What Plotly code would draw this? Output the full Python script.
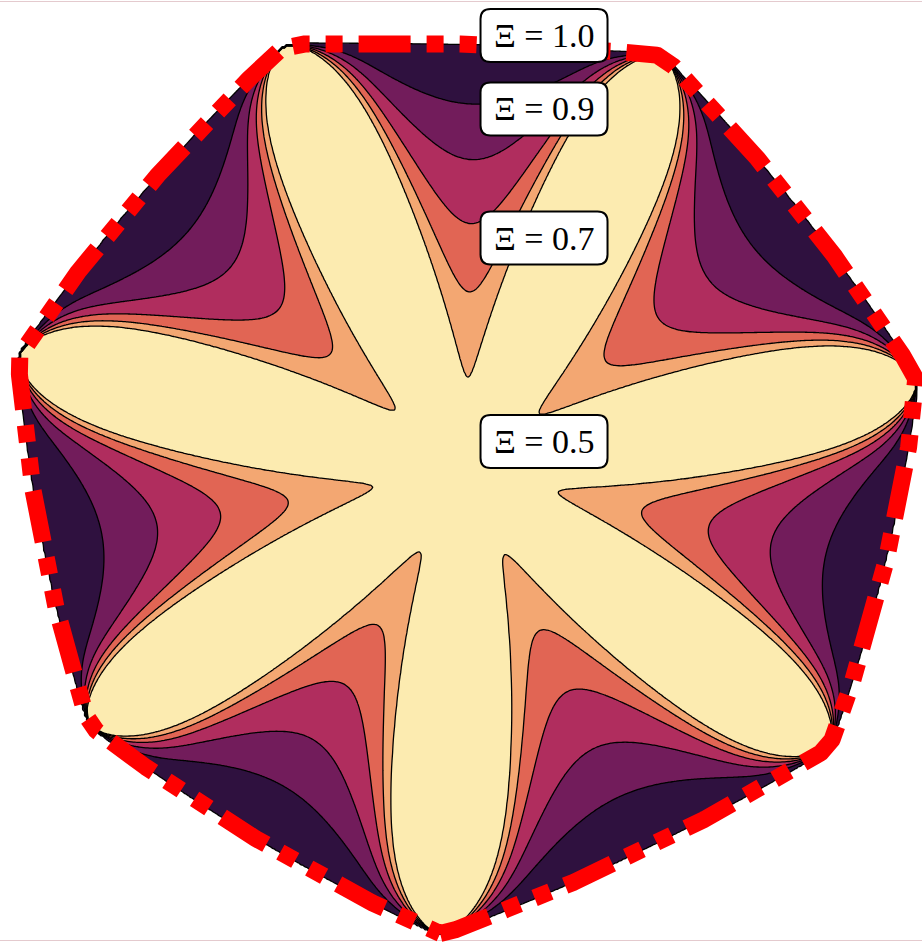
import numpy as np
import plotly.graph_objects as go

# ---------------- domain outline: seven corners (polar, unit = corner radius) ----------------
corner_angle_deg = [-93.2, -37.3, 11.4, 64.7, 113.0, 165.5, 214.0]
corner_radius = [1.011, 0.993, 1.002, 1.000, 1.007, 1.006, 0.989]
# outward bulge of each side (side k joins corner k and corner k+1)
side_sagitta = [0.025, 0.025, 0.026, 0.012, 0.025, 0.025, 0.025]

# ---------------- where each level crosses the middle of a sector (relative radius) ----------------
tip_level = [0.30, 0.40, 0.50, 0.60, 0.70, 0.80, 0.90, 1.00]
tip_rho = [0.00, 0.07, 0.22, 0.42, 0.58, 0.73, 0.86, 1.00]

# ---------------- contour levels and band colours ----------------
levels = [0.5, 0.6, 0.7, 0.8, 0.9, 1.0]
band_colors = ["#FCEBB0", "#F3A772", "#E16554", "#B02D5E", "#721C5B", "#2F113F", "#FFFFFF"]

# ---------------- labelled levels ----------------
label_levels = [1.0, 0.9, 0.7, 0.5]

# ============================================================================================
ang = np.radians(corner_angle_deg)
vx = np.array(corner_radius) * np.cos(ang)
vy = np.array(corner_radius) * np.sin(ang)
nv = len(ang)

# each side is a circular arc through two neighbouring corners
side_circles = []
for k in range(nv):
    j = (k + 1) % nv
    mx, my = (vx[k] + vx[j]) / 2, (vy[k] + vy[j]) / 2
    hx, hy = (vx[j] - vx[k]) / 2, (vy[j] - vy[k]) / 2
    h = np.hypot(hx, hy)
    nx_, ny_ = hy / h, -hx / h
    if nx_ * mx + ny_ * my < 0:
        nx_, ny_ = -nx_, -ny_
    s = side_sagitta[k]
    R = (h * h + s * s) / (2 * s)
    side_circles.append((mx + (s - R) * nx_, my + (s - R) * ny_, R))


def boundary_radius(theta, tau=0.006):
    """Distance from the centre to the (slightly rounded) outline along direction theta."""
    ex, ey = np.cos(theta), np.sin(theta)
    rs = []
    for cx, cy, R in side_circles:
        b = ex * cx + ey * cy
        rs.append(b + np.sqrt(b * b - (cx * cx + cy * cy) + R * R))
    rs = np.array(rs)
    m = rs.min(axis=0)
    return m - tau * np.log(np.exp(-(rs - m) / tau).sum(axis=0))


base = ang[0]
sector_edges = np.append(ang - base, 2 * np.pi)


def sector_coord(theta):
    """0 on a corner direction, 1 half-way between two corners."""
    t = np.mod(theta - base, 2 * np.pi)
    k = np.clip(np.searchsorted(sector_edges, t, side="right") - 1, 0, nv - 1)
    ta, tb = sector_edges[k], sector_edges[k + 1]
    half = (tb - ta) / 2
    mid = (ta + tb) / 2
    return 1 - np.abs(t - mid) / half


def contour_u(c, rho, k=0.75, taper=9):
    """Sector coordinate of the level-c curve at relative radius rho."""
    rc = np.interp(c, tip_level, tip_rho)
    xi = (rho - rc) / np.maximum(1 - rc, 1e-9)
    xc = np.clip(xi, 0, 1)
    U = (1 - k * np.sqrt(xc)) * np.sqrt(np.clip(1 - xc ** taper, 0, 1))
    return np.where(xi < 0, 2.0, U)


def level_field(rho, u):
    lo = np.full(rho.shape, tip_level[0])
    hi = np.full(rho.shape, tip_level[-1])
    for _ in range(28):
        c = 0.5 * (lo + hi)
        below = u < contour_u(c, rho)
        hi = np.where(below, c, hi)
        lo = np.where(below, lo, c)
    return 0.5 * (lo + hi)


L = 1.02
n = 461
g = np.linspace(-L, L, n)
X, Y = np.meshgrid(g, g)
Rr = np.hypot(X, Y)
TH = np.arctan2(Y, X)
rb = boundary_radius(TH)
rho = Rr / rb
u = sector_coord(TH)

inside = rho < 1.0
z = np.where(inside, level_field(np.minimum(rho, 0.99999), u), 1.0 + 3.0 * (Rr - rb))
z = np.round(z, 5)

# colour scale: one flat colour per band (band centres sit at k/6)
nb = len(band_colors)
colorscale = [[k / (nb - 1), c] for k, c in enumerate(band_colors)]

fig = go.Figure()
fig.add_trace(go.Contour(
    x=g, y=g, z=z,
    autocontour=False,
    contours=dict(start=levels[0], end=levels[-1], size=0.1, coloring="fill", showlines=True),
    line=dict(color="black", width=1.3, smoothing=1),
    colorscale=colorscale, showscale=False, hoverinfo="skip",
))

# red dash-dot-dot outline along the domain edge
th = np.linspace(base, base + 2 * np.pi, 2400)
rbo = boundary_radius(th)
fig.add_trace(go.Scatter(
    x=rbo * np.cos(th), y=rbo * np.sin(th), mode="lines",
    line=dict(color="#FF0000", width=17, dash="52px,16px,17px,16px,17px,16px"),
    hoverinfo="skip", showlegend=False,
))

# labels in rounded white boxes
scale = 460.0
box_w, box_h, box_r = 127 / scale, 53 / scale, 10 / scale
label_x = 0.1696
label_y = [0.9467, 0.787, 0.5065, 0.0641]


def rounded_box(cx, cy, w, h, r):
    x0, x1 = cx - w / 2, cx + w / 2
    y0, y1 = cy - h / 2, cy + h / 2
    return (f"M{x0 + r},{y0} L{x1 - r},{y0} Q{x1},{y0} {x1},{y0 + r} "
            f"L{x1},{y1 - r} Q{x1},{y1} {x1 - r},{y1} L{x0 + r},{y1} "
            f"Q{x0},{y1} {x0},{y1 - r} L{x0},{y0 + r} Q{x0},{y0} {x0 + r},{y0} Z")


for lv, ly in zip(label_levels, label_y):
    fig.add_shape(type="path", path=rounded_box(label_x, ly, box_w, box_h, box_r),
                  xref="x", yref="y", fillcolor="white",
                  line=dict(color="black", width=2), layer="above")
    fig.add_annotation(x=label_x, y=ly, xref="x", yref="y", text=f"Ξ = {lv:.1f}",
                       showarrow=False, xanchor="center", yanchor="middle",
                       font=dict(family="Liberation Serif, DejaVu Serif, serif", size=34, color="black"))

fig.update_layout(
    width=922, height=943, margin=dict(l=0, r=0, t=0, b=0),
    paper_bgcolor="white", plot_bgcolor="white", showlegend=False,
    xaxis=dict(range=[-466 / scale, (922 - 466) / scale], visible=False, showgrid=False, zeroline=False),
    yaxis=dict(range=[(471 - 943) / scale, 471 / scale], visible=False, showgrid=False, zeroline=False),
)

fig.write_html("out.html")
